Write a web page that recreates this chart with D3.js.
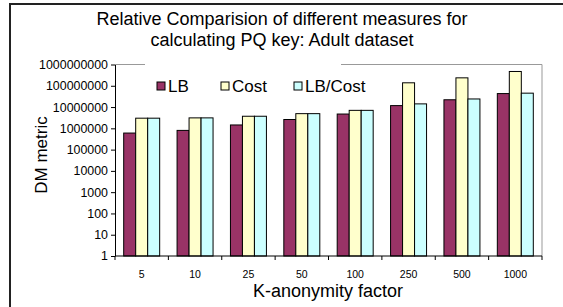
<!DOCTYPE html>
<html>
<head>
<meta charset="utf-8">
<script src="https://cdn.jsdelivr.net/npm/d3@7"></script>
<style>
  body { margin: 0; background: #fff; }
  svg { font-family: "Liberation Sans", Arial, sans-serif; display: block; }
</style>
</head>
<body>
<svg id="chart" width="563" height="307"></svg>
<script>
// K-anonymity factors on the x axis
const categories = ["5", "10", "25", "50", "100", "250", "500", "1000"];
const seriesNames = ["LB", "Cost", "LB/Cost"];

// DM metric values (log scale)
const lbValues     = [600000, 800000, 1440000, 2600000, 4700000, 11700000, 22000000, 43000000];
const costValues   = [3000000, 3100000, 3700000, 4900000, 7000000, 138000000, 236000000, 470000000];
const lbCostValues = [3000000, 3100000, 3700000, 4900000, 7000000, 14100000, 24000000, 45000000];

const yTicks = [1, 10, 100, 1000, 10000, 100000, 1000000, 10000000, 100000000, 1000000000];

const seriesColours = ["#993366", "#ffffcc", "#ccffff"];

const svg = d3.select("#chart");

// outer frame of the figure
svg.append("path")
    .attr("d", "M10,310 L10,4 L570,4")
    .attr("fill", "none")
    .attr("stroke", "#222")
    .attr("stroke-width", 2);

// plot area
const plotX = 115, plotY = 64.5, plotW = 427, plotH = 191.5;
const g = svg.append("g").attr("transform", `translate(${plotX}, ${plotY})`);

const x = d3.scaleBand().domain(categories).range([0, plotW]).padding(0);
const xInner = d3.scaleBand().domain(seriesNames).range([0, x.bandwidth()])
    .paddingInner(0).paddingOuter(0.725);
const y = d3.scaleLog().domain([1, 1e9]).range([plotH, 0]);

// gray border of the plot area (top and right)
g.append("path")
    .attr("d", `M0,0 L${plotW},0 L${plotW},${plotH}`)
    .attr("fill", "none")
    .attr("stroke", "#999")
    .attr("stroke-width", 1);

// bars
const rows = categories.map((c, i) => ({
    cat: c,
    vals: [lbValues[i], costValues[i], lbCostValues[i]]
}));

const groups = g.selectAll("g.grp")
    .data(rows)
    .join("g")
    .attr("class", "grp")
    .attr("transform", d => `translate(${x(d.cat)}, 0)`);

groups.selectAll("rect")
    .data(d => d.vals.map((v, j) => ({ name: seriesNames[j], v, j })))
    .join("rect")
    .attr("x", d => xInner(d.name))
    .attr("y", d => y(d.v))
    .attr("width", xInner.bandwidth())
    .attr("height", d => plotH - y(d.v))
    .attr("fill", d => seriesColours[d.j])
    .attr("stroke", "#000")
    .attr("stroke-width", 1);

// y axis
const yAxis = g.append("g")
    .call(d3.axisLeft(y).tickValues(yTicks).tickSize(4).tickSizeOuter(0)
        .tickFormat(d3.format("d")));
yAxis.select(".domain").attr("stroke", "#000");
yAxis.selectAll(".tick line").attr("stroke", "#000");
yAxis.selectAll("text")
    .attr("font-family", "Liberation Sans, Arial, sans-serif")
    .attr("font-size", "12.4px")
    .attr("fill", "#000")
    .attr("x", -7);

// x axis: ticks at category boundaries
const xAxisG = g.append("g").attr("transform", `translate(0, ${plotH})`);
xAxisG.append("line")
    .attr("x1", 0).attr("x2", plotW)
    .attr("stroke", "#000");
xAxisG.selectAll("line.tk")
    .data(d3.range(categories.length + 1))
    .join("line")
    .attr("class", "tk")
    .attr("x1", i => i * x.step()).attr("x2", i => i * x.step())
    .attr("y1", 0).attr("y2", 4)
    .attr("stroke", "#000");
xAxisG.selectAll("text")
    .data(categories)
    .join("text")
    .attr("x", d => x(d) + x.bandwidth() / 2)
    .attr("y", 21.5)
    .attr("text-anchor", "middle")
    .attr("font-size", "10.5px")
    .text(d => d);

// axis titles
svg.append("text")
    .attr("x", 328).attr("y", 297)
    .attr("text-anchor", "middle")
    .attr("font-size", "18px")
    .text("K-anonymity factor");

svg.append("text")
    .attr("transform", "translate(47, 155) rotate(-90)")
    .attr("text-anchor", "middle")
    .attr("font-size", "17px")
    .text("DM metric");

// title
const title = ["Relative Comparision of different measures for", "calculating PQ key: Adult dataset"];
svg.selectAll("text.title")
    .data(title)
    .join("text")
    .attr("class", "title")
    .attr("x", 282)
    .attr("y", (d, i) => 25 + i * 21)
    .attr("text-anchor", "middle")
    .attr("font-size", "18px")
    .text(d => d);

// legend with white background
const legend = svg.append("g").attr("transform", "translate(145, 64)");
legend.append("rect")
    .attr("width", 196).attr("height", 36)
    .attr("fill", "#fff");
const legendX = [12, 76, 149];
const items = legend.selectAll("g.item")
    .data(seriesNames)
    .join("g")
    .attr("class", "item")
    .attr("transform", (d, i) => `translate(${legendX[i]}, 0)`);
items.append("rect")
    .attr("x", 0).attr("y", 18)
    .attr("width", 8).attr("height", 8)
    .attr("fill", (d, i) => seriesColours[i])
    .attr("stroke", "#000");
items.append("text")
    .attr("x", 11).attr("y", 28)
    .attr("font-size", "17px")
    .text(d => d);
</script>
</body>
</html>
